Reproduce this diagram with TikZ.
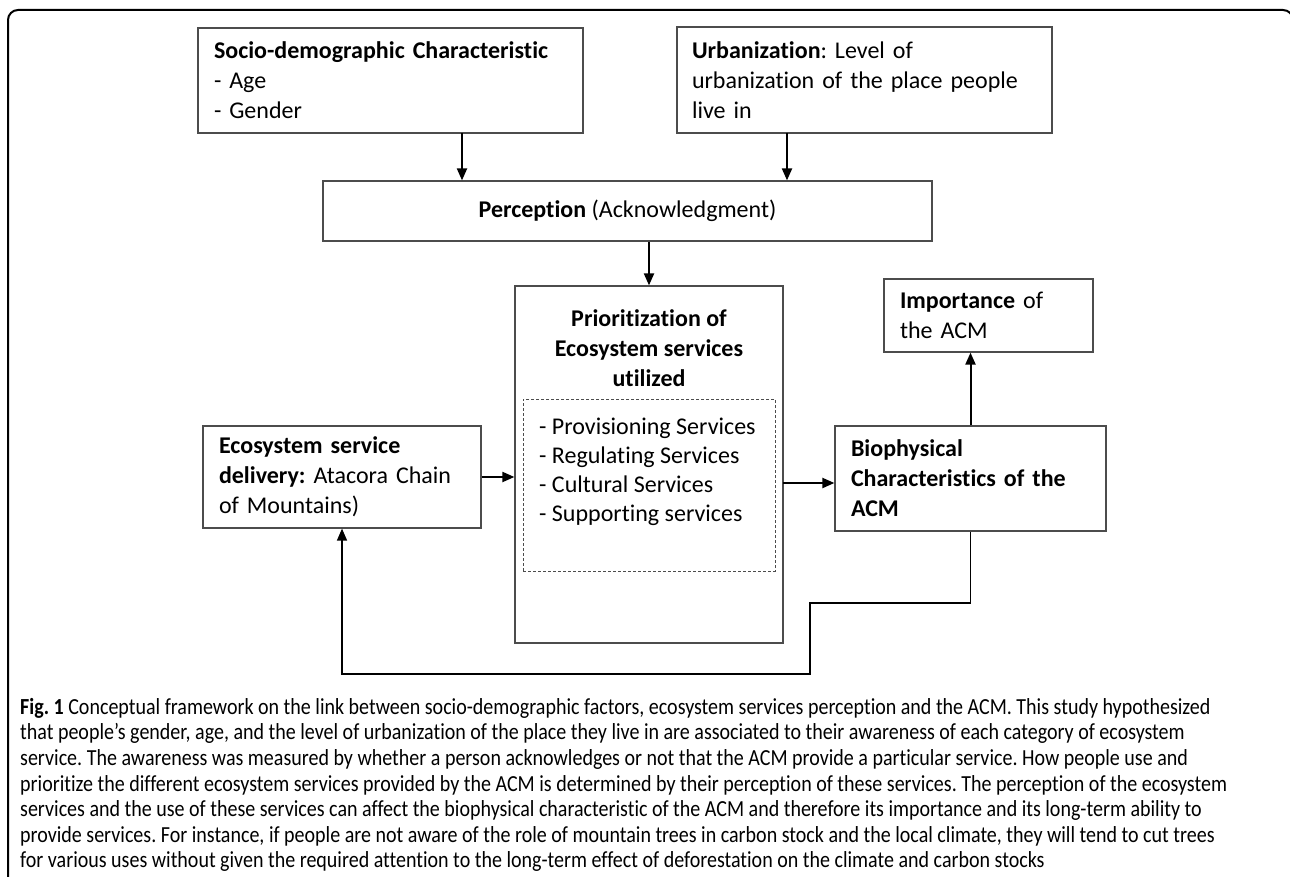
\documentclass[tikz,border=0pt]{standalone}
\usepackage{fontspec}
\setmainfont{Carlito}[Ligatures=NoCommon]
\newfontfamily\captionfont{Carlito}[FakeStretch=0.87, Ligatures=NoCommon]
\usetikzlibrary{arrows.meta}
\frenchspacing
\tikzset{
  box/.style={draw=black!70, line width=1.2pt, rectangle, inner sep=0pt, font=\fontsize{24}{30}\selectfont},
  linkarrow/.style={line width=2pt, -{Triangle[length=12pt,width=10pt]}},
  feedarrow/.style={line width=1.4pt, -{Triangle[length=12pt,width=10pt]}},
}

\begin{document}
\begin{tikzpicture}[x=1pt, y=-1pt]
			%%%%% FRAME %%%%%
			\useasboundingbox (0,0) rectangle (1290,877);
			\clip (0,0) rectangle (1290,877);
			\draw[line width=2pt, rounded corners=10pt] (8,900) -- (8,10) -- (1293,10) -- (1293,900);
			
			%%%%% TOP ROW %%%%%
			\node[box, minimum width=385pt, minimum height=105pt, text width=353pt, align=left] (socio) at (390.5,80.5) {\textbf{Socio-demographic Characteristic}\\- Age\\- Gender};
			\node[box, minimum width=375pt, minimum height=106pt, text width=345pt, align=left] (urban) at (864.5,80) {\textbf{Urbanization}: Level of\\urbanization of the place people\\live in};
			
			\node[box, minimum width=609pt, minimum height=60pt] (percep) at (627.5,211) {\textbf{Perception} (Acknowledgment)};
			
			\coordinate (socioout) at (462,133);
			\coordinate (urbanout) at (787,133);
			\draw[linkarrow] (socioout) -- (socioout |- percep.north);
			\draw[linkarrow] (urbanout) -- (urbanout |- percep.north);
			
			%%%%% MIDDLE %%%%%
			\node[box, minimum width=268pt, minimum height=357pt] (prio) at (649,464.5) {};
			\node[font=\fontsize{24}{30}\selectfont\bfseries, align=center, inner sep=0pt] (priotitle) at (649,348) {Prioritization of\\Ecosystem services\\utilized};
			\node[box, line width=1pt, dash pattern=on 3pt off 2pt, minimum width=252pt, minimum height=172pt] (servbox) at (649,485) {};
			\node[font=\fontsize{24}{29}\selectfont, anchor=west, align=left, inner sep=0pt] (servlist) at (539,472) {- Provisioning Services\\- Regulating Services\\- Cultural Services\\- Supporting services};
			
			\draw[linkarrow] (percep.south -| prio.north) -- (prio.north);
			
			\node[box, minimum width=278pt, minimum height=102pt, text width=246pt, align=left] (eco) at (342,477) {\textbf{Ecosystem service}\\\textbf{delivery:} Atacora Chain\\of Mountains)};
			\node[box, minimum width=271pt, minimum height=105pt, text width=239pt, align=left] (bio) at (970.5,478.5) {\textbf{Biophysical}\\\textbf{Characteristics of the}\\\textbf{ACM}};
			\node[box, minimum width=209pt, minimum height=73pt, text width=177pt, align=left] (imp) at (988.5,315.5) {\textbf{Importance} of\\the ACM};
			
			\coordinate (prioout) at (783,483);
			\draw[linkarrow] (eco.east) -- (eco.east -| prio.west);
			\draw[linkarrow] (prioout) -- (prioout -| bio.west);
			\draw[linkarrow] (bio.north) -- (bio.north |- imp.south);
			
			%%%%% FEEDBACK %%%%%
			\coordinate (stepin) at (810,603);
			\coordinate (stepout) at (810,674);
			\draw[feedarrow] (bio.south) |- (stepin) -- (stepout) -| (eco.south);
			
			%%%%% CAPTION %%%%%
			\node[font=\captionfont\fontsize{23}{25.6}\selectfont, anchor=north west, align=left, inner sep=0pt] (caption) at (20,698) {\textbf{Fig. 1} Conceptual framework on the link between socio-demographic factors, ecosystem services perception and the ACM. This study hypothesized\\
that people’s gender, age, and the level of urbanization of the place they live in are associated to their awareness of each category of ecosystem\\
service. The awareness was measured by whether a person acknowledges or not that the ACM provide a particular service. How people use and\\
prioritize the different ecosystem services provided by the ACM is determined by their perception of these services. The perception of the ecosystem\\
services and the use of these services can affect the biophysical characteristic of the ACM and therefore its importance and its long-term ability to\\
provide services. For instance, if people are not aware of the role of mountain trees in carbon stock and the local climate, they will tend to cut trees\\
for various uses without given the required attention to the long-term effect of deforestation on the climate and carbon stocks};
\end{tikzpicture}
\end{document}
